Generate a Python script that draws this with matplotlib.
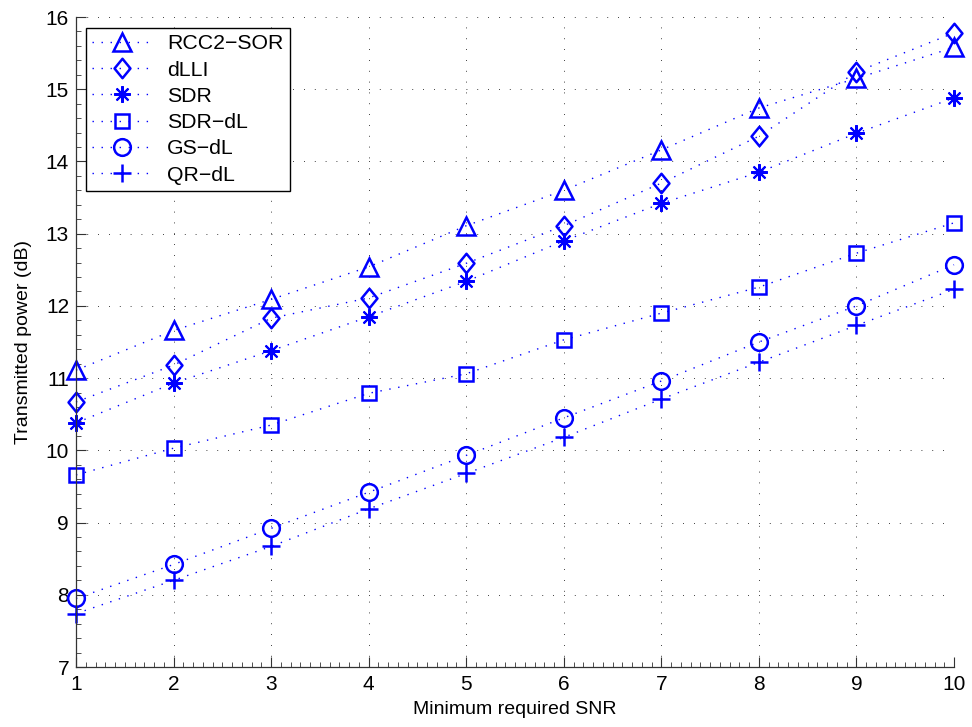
import matplotlib
matplotlib.use("Agg")
import matplotlib.pyplot as plt
from matplotlib.ticker import MultipleLocator
from matplotlib.path import Path

plt.rcParams['font.family'] = ['Liberation Sans', 'DejaVu Sans']

snr = [1, 2, 3, 4, 5, 6, 7, 8, 9, 10]

rcc2_sor = [11.11, 11.66, 12.09, 12.54, 13.11, 13.60, 14.16, 14.74, 15.15, 15.58]
dlli     = [10.67, 11.18, 11.83, 12.11, 12.59, 13.11, 13.70, 14.35, 15.24, 15.78]
sdr      = [10.38, 10.93, 11.38, 11.85, 12.34, 12.90, 13.42, 13.85, 14.39, 14.88]
sdr_dl   = [9.66, 10.03, 10.35, 10.79, 11.06, 11.53, 11.90, 12.26, 12.73, 13.15]
gs_dl    = [7.95, 8.42, 8.92, 9.42, 9.93, 10.45, 10.96, 11.50, 12.00, 12.57]
qr_dl    = [7.74, 8.20, 8.67, 9.19, 9.68, 10.18, 10.71, 11.22, 11.73, 12.23]

labels = ['RCC2\u2212SOR', 'dLLI', 'SDR', 'SDR\u2212dL', 'GS\u2212dL', 'QR\u2212dL']

diamond = Path([(0, 1), (0.82, 0), (0, -1), (-0.82, 0), (0, 1)],
               [Path.MOVETO, Path.LINETO, Path.LINETO, Path.LINETO, Path.CLOSEPOLY])

styles = [
    dict(marker='^', markersize=13, markeredgewidth=1.8),
    dict(marker=diamond, markersize=14, markeredgewidth=1.8),
    dict(marker=(8, 2, 0), markersize=12, markeredgewidth=1.5),
    dict(marker='s', markersize=9.5, markeredgewidth=1.8),
    dict(marker='o', markersize=12, markeredgewidth=1.8),
    dict(marker='+', markersize=13, markeredgewidth=1.8),
]

series = [rcc2_sor, dlli, sdr, sdr_dl, gs_dl, qr_dl]

fig = plt.figure(figsize=(9.72, 7.27), dpi=100)
ax = fig.add_axes([0.0782, 0.0825, 0.9033, 0.8941])

for ys, lab, st in zip(series, labels, styles):
    ax.plot(snr, ys, color='blue', linestyle=(0, (1, 5.5)), linewidth=1.0,
            markerfacecolor='none', markeredgecolor='blue',
            label=lab, clip_on=False, **st)

ax.set_xlim(1, 10)
ax.set_ylim(7, 16)
ax.xaxis.set_major_locator(MultipleLocator(1))
ax.yaxis.set_major_locator(MultipleLocator(1))
ax.xaxis.set_minor_locator(MultipleLocator(0.1))
ax.yaxis.set_minor_locator(MultipleLocator(0.2))

ax.grid(True, which='major', color='black', linestyle=(0, (1, 12)), linewidth=0.6)
ax.set_axisbelow(True)

for s in ('top', 'right'):
    ax.spines[s].set_visible(False)
for s in ('left', 'bottom'):
    ax.spines[s].set_color('#333333')
    ax.spines[s].set_linewidth(0.9)

ax.tick_params(which='major', direction='in', length=7, width=0.8,
               labelsize=15, colors='#333333', labelcolor='black')
ax.tick_params(which='minor', direction='in', length=3.5, width=0.6, colors='#333333')
ax.tick_params(axis='x', which='major', pad=6)
ax.tick_params(axis='y', which='major', pad=5)

ax.set_xlabel('Minimum required SNR', fontsize=14, labelpad=5)
ax.set_ylabel('Transmitted power (dB)', fontsize=14, labelpad=10)

leg = ax.legend(loc='upper left', bbox_to_anchor=(0.0114, 0.983), borderaxespad=0,
                fontsize=15.3, handlelength=2.8, handletextpad=0.7,
                labelspacing=0.34, borderpad=0.3, fancybox=False,
                framealpha=1, edgecolor='black')
leg.get_frame().set_linewidth(1.0)

fig.savefig('out.png', dpi=100)
